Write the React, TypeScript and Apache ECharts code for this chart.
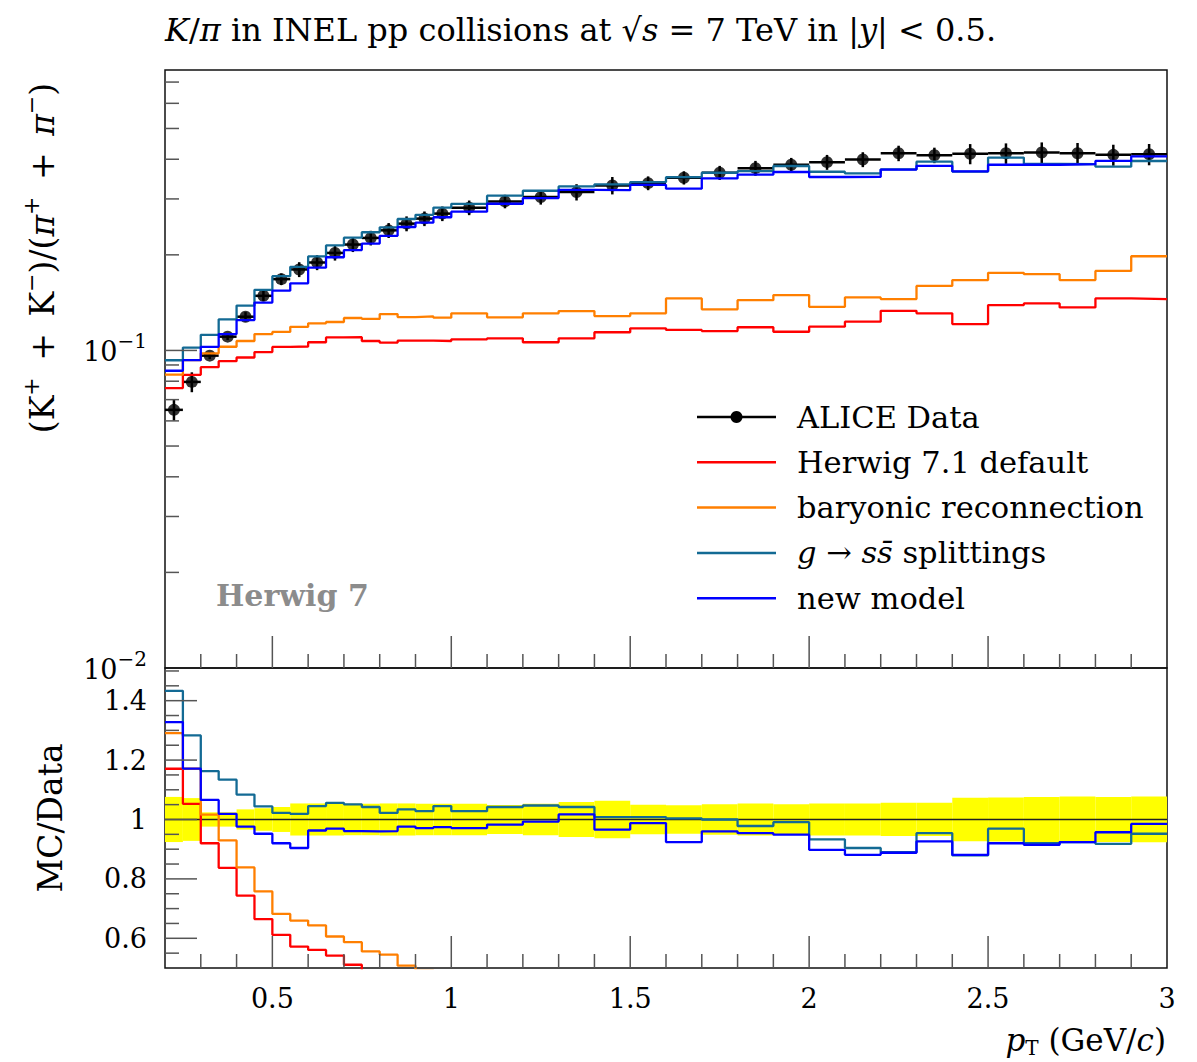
import React, { useEffect, useRef } from "react";
import * as echarts from "echarts";

// ---- data ----
const binEdges = [
  0.2, 0.25, 0.3, 0.35, 0.4, 0.45, 0.5, 0.55, 0.6, 0.65, 0.7, 0.75, 0.8, 0.85, 0.9, 0.95, 1.0,
  1.1, 1.2, 1.3, 1.4, 1.5, 1.6, 1.7, 1.8, 1.9, 2.0, 2.1, 2.2, 2.3, 2.4, 2.5, 2.6, 2.7, 2.8, 2.9, 3.0,
];

const aliceData = [
  0.065, 0.0796, 0.0963, 0.1105, 0.1277, 0.1486, 0.1677, 0.1799, 0.1892, 0.2028, 0.2155, 0.2261,
  0.2389, 0.2508, 0.2601, 0.2697, 0.2816, 0.2947, 0.304, 0.3152, 0.3308, 0.3364, 0.3498, 0.3627,
  0.375, 0.3843, 0.3916, 0.3993, 0.4178, 0.4119, 0.4161, 0.4178, 0.42, 0.4178, 0.413, 0.4148,
];

// relative total uncertainty of the data (yellow band half-width)
const aliceRelErr = [
  0.076, 0.072, 0.024, 0.024, 0.034, 0.038, 0.042, 0.054, 0.054, 0.054, 0.053, 0.053, 0.054,
  0.054, 0.053, 0.053, 0.053, 0.049, 0.053, 0.059, 0.063, 0.05, 0.048, 0.051, 0.054, 0.051,
  0.054, 0.054, 0.056, 0.056, 0.073, 0.074, 0.076, 0.077, 0.076, 0.077,
];

// Herwig 7.1 default, K/pi (top panel)
const herwigDefault = [
  0.0761, 0.0838, 0.0886, 0.0925, 0.095, 0.0988, 0.1026, 0.1029, 0.1061, 0.1099, 0.1101, 0.1071,
  0.1058, 0.1073, 0.1073, 0.1071, 0.1084, 0.1092, 0.1061, 0.1092, 0.1141, 0.1174, 0.116, 0.1151,
  0.1183, 0.1145, 0.1188, 0.1232, 0.1333, 0.1309, 0.1211, 0.1389, 0.1406, 0.1366, 0.1458, 0.1451,
];

// baryonic reconnection, K/pi (top panel)
const baryonicReconnection = [
  0.0839, 0.0932, 0.0979, 0.1027, 0.1071, 0.1126, 0.1144, 0.1187, 0.1217, 0.1229, 0.1265, 0.1257,
  0.1302, 0.1274, 0.128, 0.1268, 0.1309, 0.1271, 0.1309, 0.133, 0.1283, 0.1309, 0.1458, 0.1347,
  0.144, 0.1494, 0.1372, 0.1469, 0.1451, 0.1597, 0.1665, 0.1755, 0.1739, 0.1665, 0.178, 0.198,
];

// g -> s sbar splittings, MC/Data (ratio panel)
const gssSplittingsRatio = [
  1.433, 1.283, 1.163, 1.134, 1.084, 1.044, 1.022, 1.019, 1.045, 1.056, 1.051, 1.042, 1.022,
  1.034, 1.028, 1.045, 1.028, 1.042, 1.047, 1.042, 1.008, 1.008, 1.004, 1.0, 0.978, 0.991,
  0.933, 0.904, 0.89, 0.954, 0.879, 0.969, 0.92, 0.924, 0.918, 0.952,
];

// new model, MC/Data (ratio panel)
const newModelRatio = [
  1.328, 1.171, 1.066, 1.019, 0.976, 0.952, 0.92, 0.904, 0.963, 0.969, 0.961, 0.96, 0.961,
  0.976, 0.971, 0.974, 0.971, 0.983, 0.993, 1.017, 0.966, 0.988, 0.924, 0.96, 0.954, 0.949,
  0.898, 0.881, 0.888, 0.926, 0.881, 0.92, 0.915, 0.924, 0.957, 0.985,
];

// ---- ticks / labels ----
const xMinorTicks = [
  0.3, 0.4, 0.6, 0.7, 0.8, 0.9, 1.1, 1.2, 1.3, 1.4, 1.6, 1.7, 1.8, 1.9, 2.1, 2.2, 2.3, 2.4, 2.6,
  2.7, 2.8, 2.9,
];
const xMajorTicks = [0.5, 1, 1.5, 2, 2.5];
const xLabelValues = [0.5, 1, 1.5, 2, 2.5, 3];
const topYMinorTicks = [0.02, 0.03, 0.04, 0.05, 0.06, 0.07, 0.08, 0.09, 0.2, 0.3, 0.4, 0.5, 0.6, 0.7];
const topYMajorTicks = [0.1];
const ratioMinorTicks = [
  0.55, 0.65, 0.7, 0.75, 0.85, 0.9, 0.95, 1.05, 1.1, 1.15, 1.25, 1.3, 1.35, 1.45, 1.5,
];
const ratioMajorTicks = [0.6, 0.8, 1.0, 1.2, 1.4];
const ratioLabelValues = [0.6, 0.8, 1.0, 1.2, 1.4];

const X_MIN = 0.2;
const X_MAX = 3.0;
const TOP_MIN = 0.01;
const TOP_MAX = 0.764;
const R_MIN = 0.5;
const R_MAX = 1.51;

const SERIF = "'DejaVu Serif', 'Liberation Serif', serif";
const C_RED = "#ff0000";
const C_ORANGE = "#ff7f00";
const C_TEAL = "#136a94";
const C_BLUE = "#0000ff";

const near = (a: number, list: number[]) => list.some((b) => Math.abs(a - b) < 1e-6);

function stepPoints(vals: number[]) {
  const out: number[][] = [];
  vals.forEach((v, i) => {
    out.push([binEdges[i], v]);
    out.push([binEdges[i + 1], v]);
  });
  return out;
}

function stepSeries(name: string, vals: number[], color: string, gi: number) {
  return {
    name,
    type: "line",
    xAxisIndex: gi,
    yAxisIndex: gi,
    data: stepPoints(vals),
    symbol: "none",
    showSymbol: false,
    silent: true,
    clip: true,
    lineStyle: { color, width: 2.3 },
  };
}

function tickSeries(gi: number, vals: number[], len: number, dir: "x" | "y", edge: number) {
  return {
    type: "custom",
    xAxisIndex: gi,
    yAxisIndex: gi,
    silent: true,
    clip: false,
    z: 5,
    data: vals.map((v) => [v]),
    renderItem: (_p: any, api: any) => {
      const v = api.value(0);
      if (dir === "y") {
        const p = api.coord([X_MIN, v]);
        return {
          type: "line",
          shape: { x1: p[0], y1: p[1], x2: p[0] + len, y2: p[1] },
          style: { stroke: "#555", lineWidth: 1.5 },
        };
      }
      const p = api.coord([v, edge]);
      return {
        type: "line",
        shape: { x1: p[0], y1: p[1], x2: p[0], y2: p[1] - len },
        style: { stroke: "#555", lineWidth: 1.5 },
      };
    },
  };
}

function buildOption() {
  const mids = aliceData.map((_, i) => (binEdges[i] + binEdges[i + 1]) / 2);
  const herwigRatio = herwigDefault.map((v, i) => v / aliceData[i]);
  const baryonicRatio = baryonicReconnection.map((v, i) => v / aliceData[i]);
  const gssTop = gssSplittingsRatio.map((r, i) => r * aliceData[i]);
  const newModelTop = newModelRatio.map((r, i) => r * aliceData[i]);

  const labelStyle = { fontFamily: SERIF, fontSize: 27, color: "#000" };

  const legendRows = [
    { text: "ALICE Data", color: "#000", dot: true },
    { text: "Herwig 7.1 default", color: C_RED, dot: false },
    { text: "baryonic reconnection", color: C_ORANGE, dot: false },
    { text: "{i|g} → {i|s}{i|s̄} splittings", color: C_TEAL, dot: false },
    { text: "new model", color: C_BLUE, dot: false },
  ];
  const legendGraphics: any[] = [];
  legendRows.forEach((r, k) => {
    const y = 417 + k * 45.3;
    legendGraphics.push({
      type: "line",
      shape: { x1: 697, y1: y, x2: 776, y2: y },
      style: { stroke: r.color, lineWidth: 2.5 },
      silent: true,
    });
    if (r.dot) {
      legendGraphics.push({
        type: "circle",
        shape: { cx: 736.5, cy: y, r: 6 },
        style: { fill: "#000" },
        silent: true,
      });
    }
    legendGraphics.push({
      type: "text",
      x: 797,
      y,
      silent: true,
      style: {
        text: r.text,
        fontFamily: SERIF,
        fontSize: 30.5,
        fill: "#000",
        verticalAlign: "middle",
        align: "left",
        rich: { i: { fontFamily: SERIF, fontSize: 30.5, fontStyle: "italic" } },
      },
    });
  });

  return {
    animation: false,
    backgroundColor: "#fff",
    grid: [
      {
        left: 165, top: 70, width: 1002, height: 598,
        show: true, borderColor: "#111", borderWidth: 1.5, backgroundColor: "transparent",
        containLabel: false, outerBoundsMode: "none",
      },
      {
        left: 165, top: 668, width: 1002, height: 300,
        show: true, borderColor: "#111", borderWidth: 1.5, backgroundColor: "transparent",
        containLabel: false, outerBoundsMode: "none",
      },
    ],
    xAxis: [
      {
        gridIndex: 0, type: "value", min: X_MIN, max: X_MAX,
        axisLine: { show: false }, axisTick: { show: false }, axisLabel: { show: false },
        splitLine: { show: false },
      },
      {
        gridIndex: 1, type: "value", min: X_MIN, max: X_MAX, interval: 0.1,
        axisLine: { show: false }, axisTick: { show: false }, splitLine: { show: false },
        axisLabel: {
          ...labelStyle, margin: 17,
          formatter: (v: number) => (near(v, xLabelValues) ? String(Math.round(v * 10) / 10) : ""),
        },
      },
    ],
    yAxis: [
      {
        gridIndex: 0, type: "log", logBase: 10, min: TOP_MIN, max: TOP_MAX,
        axisLine: { show: false }, axisTick: { show: false }, splitLine: { show: false },
        axisLabel: {
          ...labelStyle, margin: 18,
          formatter: (v: number) => {
            const e = Math.log10(v);
            if (Math.abs(e - Math.round(e)) > 1e-6) return "";
            return `{b|10}{s|−${-Math.round(e)}}`;
          },
          rich: {
            b: { fontFamily: SERIF, fontSize: 27, lineHeight: 30, verticalAlign: "bottom", color: "#000" },
            s: { fontFamily: SERIF, fontSize: 20, lineHeight: 20, padding: [0, 0, 14, 0], verticalAlign: "bottom", color: "#000" },
          },
        },
      },
      {
        gridIndex: 1, type: "value", min: R_MIN, max: R_MAX, interval: 0.1,
        axisLine: { show: false }, axisTick: { show: false }, splitLine: { show: false },
        axisLabel: {
          ...labelStyle, margin: 18,
          formatter: (v: number) => (near(v, ratioLabelValues) ? String(Math.round(v * 10) / 10) : ""),
        },
      },
    ],
    series: [
      // ---- top panel ----
      stepSeries("Herwig 7.1 default", herwigDefault, C_RED, 0),
      stepSeries("baryonic reconnection", baryonicReconnection, C_ORANGE, 0),
      stepSeries("g → ss̄ splittings", gssTop, C_TEAL, 0),
      stepSeries("new model", newModelTop, C_BLUE, 0),
      {
        name: "ALICE Data errors",
        type: "custom",
        xAxisIndex: 0,
        yAxisIndex: 0,
        silent: true,
        data: aliceData.map((v, i) => [binEdges[i], binEdges[i + 1], v, aliceRelErr[i]]),
        encode: { x: [0, 1], y: 2 },
        renderItem: (_p: any, api: any) => {
          const lo = api.value(0), hi = api.value(1), v = api.value(2), e = api.value(3);
          const a = api.coord([lo, v]);
          const b = api.coord([hi, v]);
          const m = (lo + hi) / 2;
          const t = api.coord([m, v * (1 + e)]);
          const d = api.coord([m, v * (1 - e)]);
          return {
            type: "group",
            children: [
              { type: "line", shape: { x1: a[0], y1: a[1], x2: b[0], y2: b[1] }, style: { stroke: "#000", lineWidth: 2.5 } },
              { type: "line", shape: { x1: t[0], y1: t[1], x2: d[0], y2: d[1] }, style: { stroke: "#000", lineWidth: 2.5 } },
            ],
          };
        },
      },
      {
        name: "ALICE Data",
        type: "scatter",
        xAxisIndex: 0,
        yAxisIndex: 0,
        silent: true,
        symbol: "circle",
        symbolSize: 12,
        itemStyle: { color: "#000" },
        data: aliceData.map((v, i) => [mids[i], v]),
      },
      // ---- ratio panel ----
      {
        name: "Data uncertainty",
        type: "custom",
        xAxisIndex: 1,
        yAxisIndex: 1,
        silent: true,
        data: aliceRelErr.map((e, i) => [binEdges[i], binEdges[i + 1], e]),
        encode: { x: [0, 1], y: 2 },
        renderItem: (_p: any, api: any) => {
          const lo = api.value(0), hi = api.value(1), e = api.value(2);
          const a = api.coord([lo, 1 + e]);
          const b = api.coord([hi, 1 - e]);
          return {
            type: "rect",
            shape: { x: a[0], y: a[1], width: b[0] - a[0], height: b[1] - a[1] },
            style: { fill: "#ffff00" },
          };
        },
      },
      {
        name: "unity",
        type: "line",
        xAxisIndex: 1,
        yAxisIndex: 1,
        silent: true,
        symbol: "none",
        data: [[X_MIN, 1], [X_MAX, 1]],
        lineStyle: { color: "#222", width: 1.3 },
      },
      stepSeries("Herwig 7.1 default ratio", herwigRatio, C_RED, 1),
      stepSeries("baryonic reconnection ratio", baryonicRatio, C_ORANGE, 1),
      stepSeries("g → ss̄ splittings ratio", gssSplittingsRatio, C_TEAL, 1),
      stepSeries("new model ratio", newModelRatio, C_BLUE, 1),
      // ---- ticks ----
      tickSeries(0, topYMinorTicks, 14, "y", 0),
      tickSeries(0, topYMajorTicks, 32, "y", 0),
      tickSeries(0, xMinorTicks, 14, "x", TOP_MIN),
      tickSeries(0, xMajorTicks, 32, "x", TOP_MIN),
      tickSeries(1, ratioMinorTicks, 14, "y", 0),
      tickSeries(1, ratioMajorTicks, 32, "y", 0),
      tickSeries(1, xMinorTicks, 14, "x", R_MIN),
      tickSeries(1, xMajorTicks, 32, "x", R_MIN),
    ],
    graphic: [
      {
        type: "text",
        x: 165,
        y: 30,
        silent: true,
        style: {
          text: "{i|K}/{i|π} in INEL pp collisions at √{i|s} = 7 TeV in |{i|y}| < 0.5.",
          fontFamily: SERIF,
          fontSize: 32,
          fill: "#000",
          verticalAlign: "middle",
          rich: { i: { fontFamily: SERIF, fontSize: 32, fontStyle: "italic" } },
        },
      },
      {
        type: "text",
        x: 42,
        y: 258,
        rotation: Math.PI / 2,
        silent: true,
        style: {
          text: "(K{s|+}\u2002+\u2002K{s|−})/({i|π}{s|+}\u2002+\u2002{i|π}{s|−})",
          fontFamily: SERIF,
          fontSize: 33,
          fill: "#000",
          align: "center",
          verticalAlign: "middle",
          rich: {
            i: { fontFamily: SERIF, fontSize: 33, fontStyle: "italic" },
            s: { fontFamily: SERIF, fontSize: 22, lineHeight: 22, padding: [0, 0, 16, 0], verticalAlign: "bottom" },
          },
        },
      },
      {
        type: "text",
        x: 50,
        y: 818,
        rotation: Math.PI / 2,
        silent: true,
        style: {
          text: "MC/Data",
          fontFamily: SERIF,
          fontSize: 33,
          fill: "#000",
          align: "center",
          verticalAlign: "middle",
        },
      },
      {
        type: "text",
        x: 1166,
        y: 1040,
        silent: true,
        style: {
          text: "{i|p}{s|T} (GeV/{i|c})",
          fontFamily: SERIF,
          fontSize: 31,
          fill: "#000",
          align: "right",
          verticalAlign: "middle",
          rich: {
            i: { fontFamily: SERIF, fontSize: 31, fontStyle: "italic" },
            s: { fontFamily: SERIF, fontSize: 20, lineHeight: 20, padding: [13, 0, 0, 0], verticalAlign: "top" },
          },
        },
      },
      {
        type: "text",
        x: 216,
        y: 595,
        silent: true,
        style: {
          text: "Herwig 7",
          fontFamily: SERIF,
          fontSize: 30,
          fontWeight: "bold",
          fill: "#8c8c8c",
          verticalAlign: "middle",
        },
      },
      ...legendGraphics,
    ],
  };
}

export default function App() {
  const ref = useRef<HTMLDivElement>(null);
  useEffect(() => {
    document.body.style.margin = "0";
    const chart = echarts.init(ref.current as HTMLDivElement, null, { renderer: "svg" });
    chart.setOption(buildOption() as any);
    return () => chart.dispose();
  }, []);
  return <div ref={ref} style={{ width: 1197, height: 1062 }} />;
}
